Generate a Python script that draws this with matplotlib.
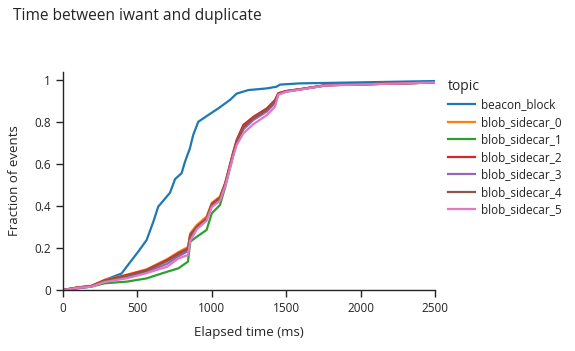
import matplotlib
matplotlib.use("Agg")
import matplotlib.pyplot as plt

plt.rcParams['font.family'] = ['Open Sans', 'DejaVu Sans']

topics = ["beacon_block", "blob_sidecar_0", "blob_sidecar_1", "blob_sidecar_2",
          "blob_sidecar_3", "blob_sidecar_4", "blob_sidecar_5"]
colors = ["#1f77b4", "#ff7f0e", "#2ca02c", "#d62728", "#9467bd", "#8c564b", "#e377c2"]

beacon_x = [0, 100, 190, 282, 394, 428, 506, 562, 607, 640, 719, 753, 797, 820, 853,
            875, 909, 976, 1044, 1122, 1167, 1245, 1369, 1435, 1458, 1593, 1771, 2500]
beacon_y = [0, 0.008, 0.016, 0.048, 0.079, 0.111, 0.183, 0.238, 0.325, 0.397, 0.463,
            0.528, 0.556, 0.611, 0.675, 0.738, 0.801, 0.833, 0.865, 0.905, 0.935, 0.952,
            0.96, 0.968, 0.978, 0.984, 0.986, 0.995]

blob_x = [0, 100, 190, 280, 430, 560, 700, 775, 840, 855, 900, 965, 1000, 1055, 1090,
          1145, 1167, 1212, 1280, 1370, 1425, 1447, 1500, 1600, 1770, 2500]
blob0_y = [0, 0.013, 0.02, 0.048, 0.073, 0.098, 0.147, 0.18, 0.205, 0.27, 0.31, 0.35,
           0.415, 0.445, 0.51, 0.655, 0.71, 0.78, 0.82, 0.86, 0.9, 0.935, 0.947, 0.957,
           0.975, 0.988]
blob1_y = [0, 0.01, 0.016, 0.032, 0.04, 0.055, 0.087, 0.103, 0.135, 0.23, 0.254, 0.286,
           0.365, 0.405, 0.49, 0.645, 0.70, 0.77, 0.815, 0.855, 0.895, 0.935, 0.946,
           0.956, 0.975, 0.988]
blob2_y = [0, 0.012, 0.019, 0.046, 0.071, 0.095, 0.143, 0.175, 0.198, 0.262, 0.302,
           0.341, 0.41, 0.44, 0.508, 0.659, 0.714, 0.786, 0.825, 0.865, 0.905, 0.937,
           0.948, 0.957, 0.976, 0.988]
blob3_y = [0, 0.011, 0.017, 0.04, 0.062, 0.085, 0.125, 0.16, 0.185, 0.25, 0.295, 0.335,
           0.4, 0.43, 0.5, 0.65, 0.70, 0.765, 0.81, 0.85, 0.89, 0.932, 0.945, 0.956,
           0.975, 0.988]
blob4_y = [0, 0.012, 0.018, 0.045, 0.068, 0.092, 0.138, 0.17, 0.195, 0.258, 0.3, 0.338,
           0.405, 0.437, 0.505, 0.655, 0.705, 0.775, 0.818, 0.858, 0.898, 0.934, 0.946,
           0.956, 0.975, 0.988]
blob5_y = [0, 0.01, 0.016, 0.038, 0.056, 0.08, 0.111, 0.15, 0.167, 0.235, 0.29, 0.33,
           0.395, 0.425, 0.495, 0.64, 0.69, 0.746, 0.79, 0.833, 0.873, 0.93, 0.944,
           0.955, 0.974, 0.988]

series = [(beacon_x, beacon_y), (blob_x, blob0_y), (blob_x, blob1_y), (blob_x, blob2_y),
          (blob_x, blob3_y), (blob_x, blob4_y), (blob_x, blob5_y)]

TXT = "#242424"

fig = plt.figure(figsize=(5.75, 3.51), dpi=100)
ax = fig.add_axes([63/575, 1 - 290/351, (435-63)/575, (290-72)/351])

for (xs, ys), name, c in zip(series, topics, colors):
    ax.plot(xs, ys, color=c, lw=1.6, label=name)

ax.set_xlim(0, 2500)
ax.set_ylim(0, 218/210)
ax.set_xticks([0, 500, 1000, 1500, 2000, 2500])
ax.set_yticks([0, 0.2, 0.4, 0.6, 0.8, 1])
ax.set_yticklabels(["0", "0.2", "0.4", "0.6", "0.8", "1"])
for s in ["top", "right"]:
    ax.spines[s].set_visible(False)
for s in ["left", "bottom"]:
    ax.spines[s].set_color(TXT)
    ax.spines[s].set_linewidth(1)
ax.tick_params(colors=TXT, labelsize=8.5, length=5, width=1, direction="out")
ax.set_xlabel("Elapsed time (ms)", fontsize=9.5, color=TXT, labelpad=8)
ax.set_ylabel("Fraction of events", fontsize=9.5, color=TXT, labelpad=10)

fig.text(13/575, 1 - 16/351, "Time between iwant and duplicate", fontsize=11.2,
         color=TXT, va="center", ha="left")

leg = ax.legend(loc="upper left", bbox_to_anchor=(443/575, 1 - 74/351),
                bbox_transform=fig.transFigure, frameon=False, fontsize=8.5,
                title="topic", title_fontsize=10, handlelength=2.3, handletextpad=0.5,
                labelspacing=0.38, borderaxespad=0)
leg._legend_box.align = "left"
for t in leg.get_texts():
    t.set_color(TXT)
leg.get_title().set_color(TXT)

fig.savefig("out.png", dpi=100)
